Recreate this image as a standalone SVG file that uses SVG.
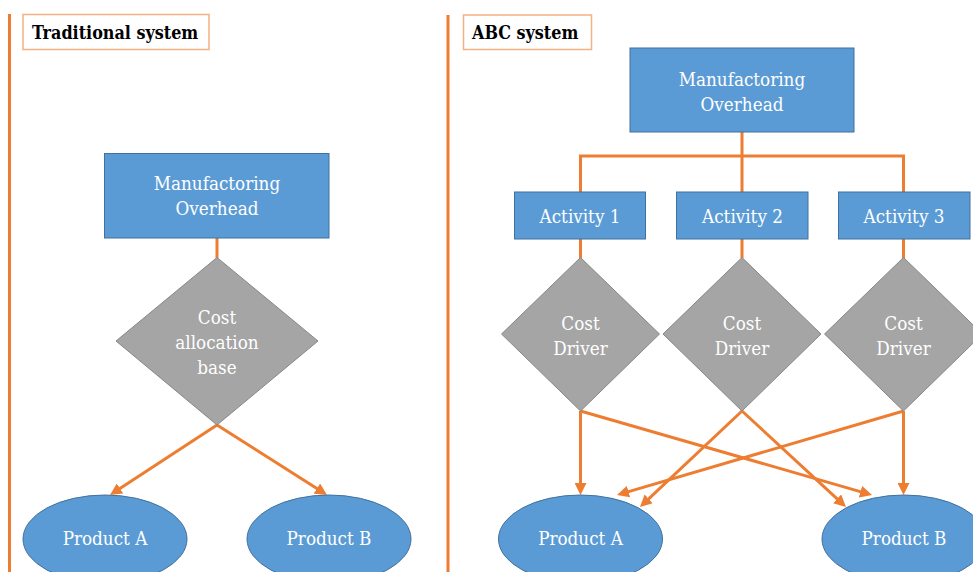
<svg xmlns="http://www.w3.org/2000/svg" width="973" height="572" viewBox="0 0 973 572">
<style>
.bg{fill:#FFFFFF}
.div{stroke:#ED7D31;stroke-width:3;fill:none}
.title{fill:#FFFFFF;stroke:#F4B183;stroke-width:1.5}
.ttext{font-family:"DejaVu Serif","Liberation Serif",serif;font-stretch:condensed;font-weight:bold;font-size:17.8px;fill:#000000}
.box{fill:#5B9BD5;stroke:#41719C;stroke-width:1}
.dia{fill:#A5A5A5;stroke:#878787;stroke-width:1}
.ell{fill:#5B9BD5;stroke:#41719C;stroke-width:1}
.lbl{font-family:"DejaVu Serif","Liberation Serif",serif;font-stretch:condensed;font-size:18.7px;fill:#FFFFFF;text-anchor:middle}
.con{stroke:#ED7D31;stroke-width:3;fill:none}
.arr{stroke:#ED7D31;stroke-width:3;fill:none;marker-end:url(#ah)}
</style>
<defs>
<marker id="ah" viewBox="0 0 12 12" markerWidth="12" markerHeight="12" markerUnits="userSpaceOnUse" refX="7" refY="6" orient="auto">
<path d="M0,0 L12,6 L0,12 z" fill="#ED7D31"/>
</marker>
</defs>
<rect class="bg" x="0" y="0" width="973" height="572"/>
<g id="dividers">
<line class="div" x1="9.5" y1="14" x2="9.5" y2="572"/>
<line class="div" x1="448" y1="15" x2="448" y2="572"/>
</g>
<g id="title-traditional">
<rect class="title" x="23" y="14.5" width="186" height="35"/>
<text class="ttext" x="32" y="39">Traditional system</text>
</g>
<g id="title-abc">
<rect class="title" x="463.5" y="15" width="128" height="34.5"/>
<text class="ttext" x="472" y="39">ABC system</text>
</g>
<g id="connectors">
<line class="con" x1="217" y1="238" x2="217" y2="258"/>
<line class="arr" x1="217" y1="425" x2="114.2" y2="492.3"/>
<line class="arr" x1="217" y1="425" x2="322.8" y2="492.3"/>
<line class="con" x1="742" y1="132" x2="742" y2="192"/>
<polyline class="con" points="580.5,192 580.5,156 903.5,156 903.5,192"/>
<line class="con" x1="580.5" y1="239" x2="580.5" y2="258"/>
<line class="con" x1="742" y1="239" x2="742" y2="258"/>
<line class="con" x1="903.5" y1="239" x2="903.5" y2="258"/>
<line class="arr" x1="580.5" y1="411" x2="580.5" y2="490"/>
<line class="arr" x1="580.5" y1="411" x2="867.2" y2="493.6"/>
<line class="arr" x1="742" y1="411" x2="643.6" y2="503.6"/>
<line class="arr" x1="742" y1="411" x2="842.3" y2="503.6"/>
<line class="arr" x1="903.5" y1="411" x2="621.8" y2="493.6"/>
<line class="arr" x1="903.5" y1="411" x2="903.5" y2="490"/>
</g>
<g id="trad-overhead">
<rect class="box" x="104.5" y="153.5" width="224.5" height="84.5"/>
<text class="lbl" x="217" y="190">Manufactoring</text>
<text class="lbl" x="217" y="215">Overhead</text>
</g>
<g id="trad-base">
<polygon class="dia" points="217,257.5 318,341 217,425 116,341"/>
<text class="lbl" x="217" y="324">Cost</text>
<text class="lbl" x="217" y="349">allocation</text>
<text class="lbl" x="217" y="374">base</text>
</g>
<g id="trad-productA">
<ellipse class="ell" cx="105" cy="539" rx="82" ry="44"/>
<text class="lbl" x="105" y="545">Product A</text>
</g>
<g id="trad-productB">
<ellipse class="ell" cx="329" cy="539" rx="82" ry="44"/>
<text class="lbl" x="329" y="545">Product B</text>
</g>
<g id="abc-overhead">
<rect class="box" x="630" y="48" width="224" height="84"/>
<text class="lbl" x="742" y="86">Manufactoring</text>
<text class="lbl" x="742" y="111">Overhead</text>
</g>
<g id="activity1">
<rect class="box" x="514.5" y="192" width="131" height="47"/>
<text class="lbl" x="580" y="223">Activity 1</text>
</g>
<g id="activity2">
<rect class="box" x="676.5" y="192" width="131.5" height="47"/>
<text class="lbl" x="742.5" y="223">Activity 2</text>
</g>
<g id="activity3">
<rect class="box" x="838.5" y="192" width="131.5" height="47"/>
<text class="lbl" x="904" y="223">Activity 3</text>
</g>
<g id="driver1">
<polygon class="dia" points="580.5,257.5 659.5,334 580.5,411 501.5,334"/>
<text class="lbl" x="580.5" y="330">Cost</text>
<text class="lbl" x="580.5" y="355">Driver</text>
</g>
<g id="driver2">
<polygon class="dia" points="742,257.5 821,334 742,411 663,334"/>
<text class="lbl" x="742" y="330">Cost</text>
<text class="lbl" x="742" y="355">Driver</text>
</g>
<g id="driver3">
<polygon class="dia" points="903.5,257.5 982.5,334 903.5,411 824.5,334"/>
<text class="lbl" x="903.5" y="330">Cost</text>
<text class="lbl" x="903.5" y="355">Driver</text>
</g>
<g id="abc-productA">
<ellipse class="ell" cx="580.5" cy="539" rx="82" ry="44"/>
<text class="lbl" x="580.5" y="545">Product A</text>
</g>
<g id="abc-productB">
<ellipse class="ell" cx="904" cy="539" rx="82" ry="44"/>
<text class="lbl" x="904" y="545">Product B</text>
</g>
</svg>
